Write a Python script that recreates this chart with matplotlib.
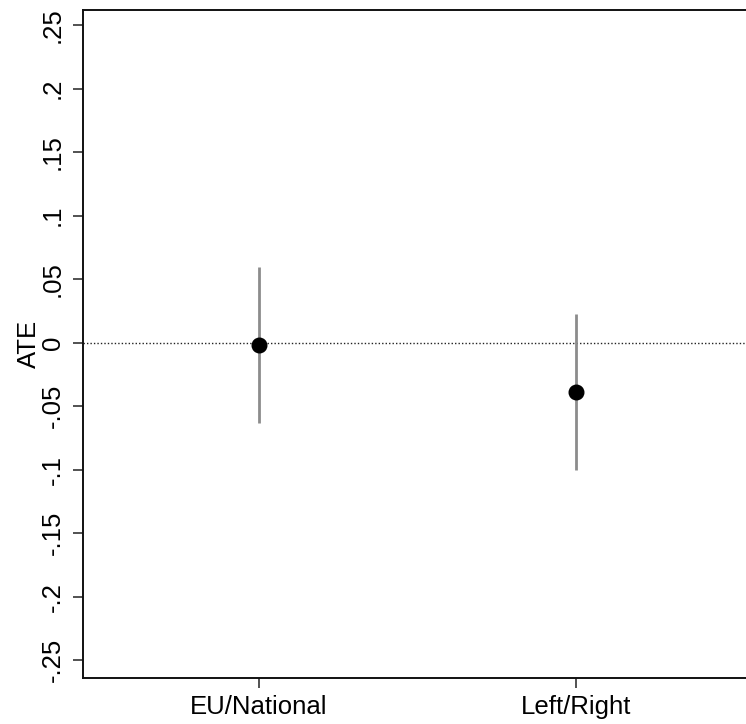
import matplotlib

matplotlib.use('Agg')

import matplotlib.pyplot as plt
import numpy as np

plt.rcParams['font.family'] = ['Liberation Sans', 'DejaVu Sans']

categories = ['EU/National', 'Left/Right']
ate = [-0.0018, -0.0386]
ci_low = [-0.063, -0.1002]
ci_high = [0.0594, 0.0226]

yticks = [0.25, 0.2, 0.15, 0.1, 0.05, 0, -0.05, -0.1, -0.15, -0.2, -0.25]
ytick_labels = ['.25', '.2', '.15', '.1', '.05', '0', '-.05', '-.1', '-.15', '-.2', '-.25']

fig = plt.figure(figsize=(7.46, 7.24), dpi=100)
ax = fig.add_axes([0.1117, 0.064, 1.0 - 0.1117, 0.9866 - 0.064])

x = np.arange(1, len(categories) + 1)

ax.axhline(0, color='#222222', lw=1.0, linestyle=(0, (1, 1.5)), zorder=1)
ax.vlines(x, ci_low, ci_high, color='#8c8c8c', lw=2.0, zorder=2)
ax.plot(x, ate, 'o', color='black', markersize=10.5, zorder=3)

ax.set_xlim(0.4467, 2.537)
ax.set_ylim(-0.2638, 0.2622)

ax.set_xticks(x)
ax.set_xticklabels(categories, fontsize=18.5)
ax.set_yticks(yticks)
ax.set_yticklabels(ytick_labels, fontsize=18.5, rotation=90, va='center')
ax.set_ylabel('ATE', fontsize=18.5, labelpad=0)

ax.tick_params(axis='both', length=7.5, width=1.1, color='#222222')
ax.tick_params(axis='y', pad=6)
ax.tick_params(axis='x', pad=5)

for s in ['left', 'bottom', 'top']:
    ax.spines[s].set_linewidth(1.4)
    ax.spines[s].set_color('#111111')
ax.spines['right'].set_visible(False)

fig.savefig('out.png', dpi=100)
